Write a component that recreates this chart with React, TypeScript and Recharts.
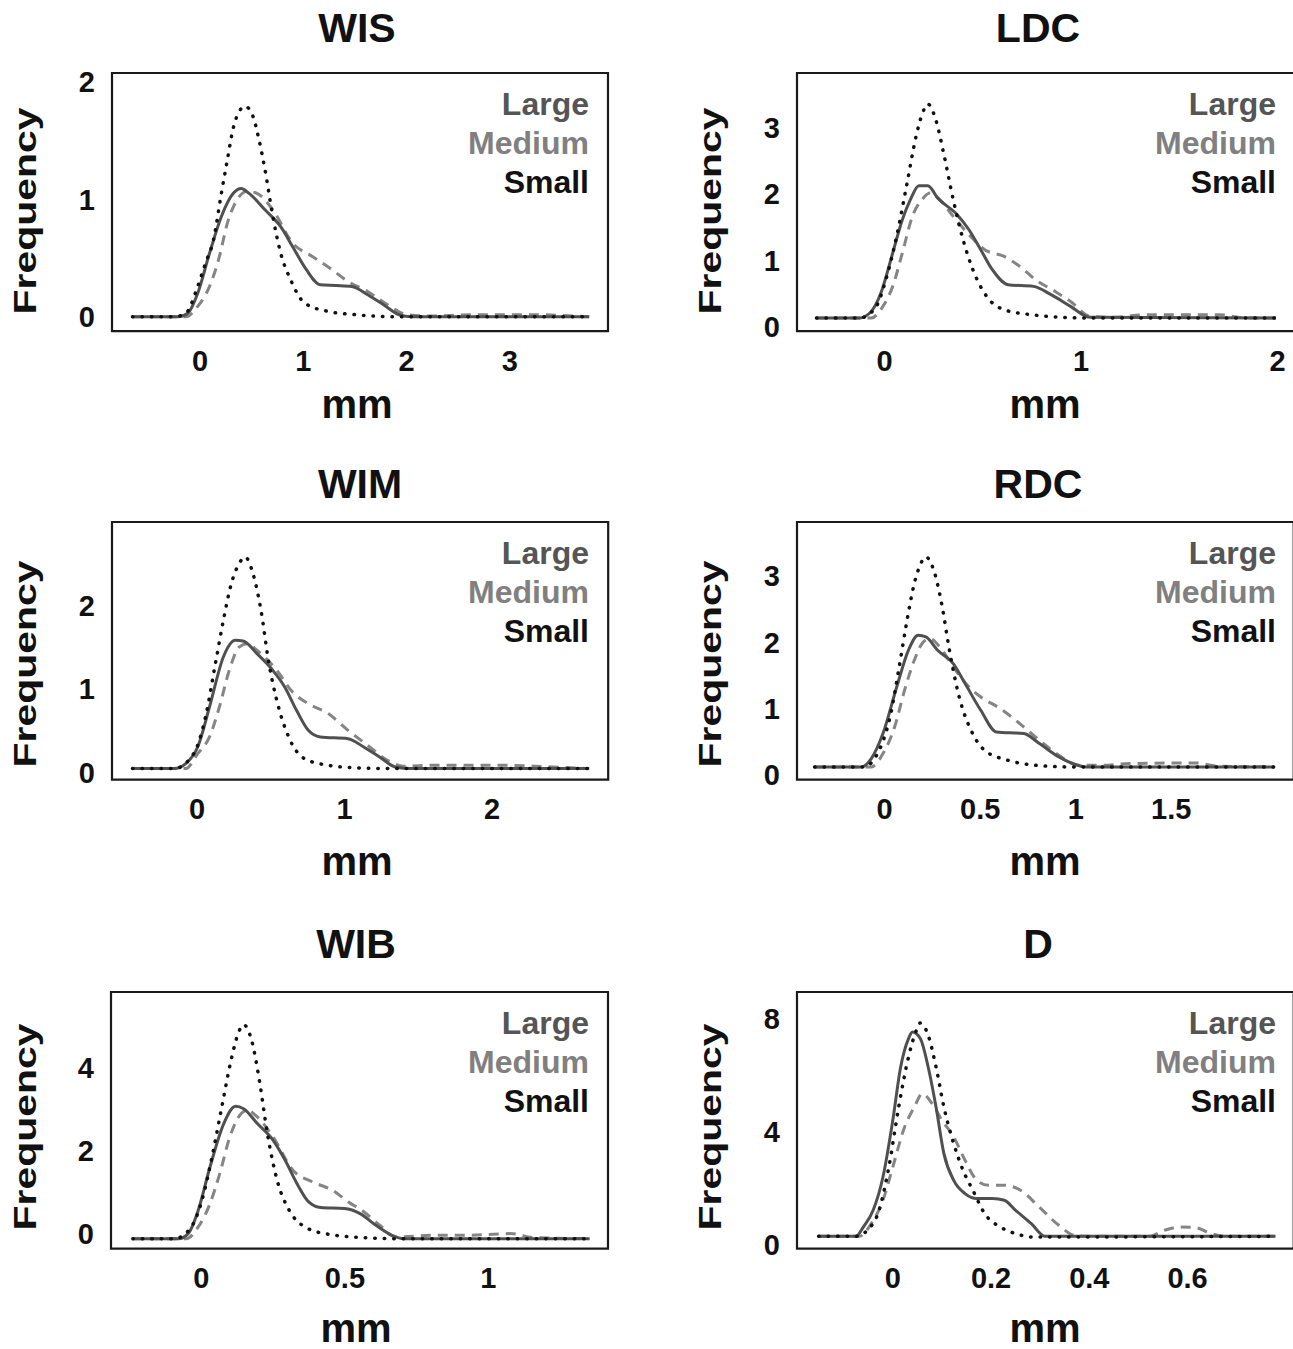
import React from "react";
import { LineChart, Line, XAxis, YAxis, ReferenceArea } from "recharts";

type Pt = { x: number; y: number };
const toPts = (rows: number[][]): Pt[] => rows.map(([x, y]) => ({ x, y }));

// ---- WIS ----
const wisLarge = toPts([
  [-0.654, 0], [-0.214, 0], [-0.118, 0.03], [-0.022, 0.2], [0.092, 0.54], [0.207, 0.853],
  [0.322, 1.05], [0.399, 1.092], [0.475, 1.05], [0.629, 0.91], [0.781, 0.766], [0.896, 0.598],
  [1.03, 0.4], [1.164, 0.272], [1.317, 0.266], [1.47, 0.258], [1.624, 0.187], [1.777, 0.102],
  [1.93, 0.017], [2.045, 0], [3.768, 0],
]);
const wisMedium = toPts([
  [-0.654, 0], [-0.137, 0], [-0.022, 0.088], [0.092, 0.258], [0.188, 0.513], [0.265, 0.797],
  [0.36, 0.996], [0.456, 1.067], [0.552, 1.05], [0.705, 0.91], [0.896, 0.627], [1.088, 0.513],
  [1.279, 0.4], [1.433, 0.3], [1.624, 0.215], [1.815, 0.102], [2.006, 0.017], [2.197, 0.006],
  [2.657, 0.017], [3.231, 0.017], [3.768, 0],
]);
const wisSmall = toPts([
  [-0.654, 0], [-0.252, 0], [-0.137, 0.03], [-0.022, 0.258], [0.054, 0.457], [0.131, 0.655],
  [0.207, 1.05], [0.265, 1.336], [0.322, 1.606], [0.38, 1.747], [0.437, 1.79], [0.513, 1.705],
  [0.571, 1.507], [0.629, 1.251], [0.705, 0.853], [0.781, 0.541], [0.877, 0.315], [1.012, 0.117],
  [1.241, 0.045], [1.509, 0.017], [1.892, 0], [3.768, 0],
]);
const wisXTicks = [0, 1, 2, 3];
const wisYTicks = [0, 1, 2];

// ---- LDC ----
const ldcLarge = toPts([
  [-0.347, 0.134], [-0.128, 0.134], [-0.068, 0.234], [-0.019, 0.51], [0.041, 1.112], [0.09, 1.613],
  [0.131, 1.914], [0.174, 2.124], [0.22, 2.124], [0.27, 1.939], [0.369, 1.688], [0.429, 1.462],
  [0.489, 1.162], [0.548, 0.861], [0.628, 0.635], [0.757, 0.61], [0.847, 0.485], [0.946, 0.309],
  [1.046, 0.144], [1.991, 0.134],
]);
const ldcMedium = toPts([
  [-0.347, 0.134], [-0.068, 0.134], [-0.009, 0.309], [0.041, 0.61], [0.09, 1.112], [0.141, 1.663],
  [0.19, 1.914], [0.23, 2.014], [0.28, 1.914], [0.349, 1.663], [0.429, 1.387], [0.509, 1.162],
  [0.608, 1.061], [0.688, 0.91], [0.767, 0.711], [0.867, 0.535], [0.946, 0.384], [1.046, 0.159],
  [1.145, 0.144], [1.344, 0.184], [1.702, 0.184], [1.841, 0.134], [1.991, 0.134],
]);
const ldcSmall = toPts([
  [-0.347, 0.134], [-0.128, 0.134], [-0.048, 0.284], [0.011, 0.76], [0.061, 1.362], [0.111, 2.114],
  [0.16, 2.866], [0.19, 3.192], [0.22, 3.352], [0.26, 3.117], [0.3, 2.615], [0.349, 1.914],
  [0.399, 1.312], [0.449, 0.861], [0.519, 0.459], [0.608, 0.259], [0.747, 0.184], [0.907, 0.144],
  [1.026, 0.134], [1.991, 0.134],
]);
const ldcXTicks = [0, 1, 2];
const ldcYTicks = [0, 1, 2, 3];

// ---- WIM ----
const wimLarge = toPts([
  [-0.437, 0.05], [-0.156, 0.05], [-0.076, 0.11], [0.005, 0.308], [0.085, 0.786], [0.179, 1.383],
  [0.26, 1.582], [0.313, 1.574], [0.407, 1.423], [0.514, 1.224], [0.595, 1.025], [0.675, 0.746],
  [0.755, 0.507], [0.836, 0.428], [1.024, 0.408], [1.131, 0.308], [1.238, 0.189], [1.345, 0.07],
  [1.452, 0.05], [2.659, 0.05],
]);
const wimMedium = toPts([
  [-0.437, 0.05], [-0.076, 0.05], [0.005, 0.229], [0.085, 0.428], [0.152, 0.786], [0.219, 1.224],
  [0.286, 1.502], [0.34, 1.542], [0.407, 1.463], [0.541, 1.224], [0.648, 0.965], [0.755, 0.826],
  [0.89, 0.707], [1.024, 0.507], [1.157, 0.328], [1.292, 0.149], [1.399, 0.079], [1.613, 0.09],
  [2.096, 0.09], [2.283, 0.079], [2.659, 0.05],
]);
const wimSmall = toPts([
  [-0.437, 0.05], [-0.156, 0.05], [-0.022, 0.229], [0.058, 0.666], [0.125, 1.304], [0.179, 1.821],
  [0.233, 2.259], [0.286, 2.498], [0.327, 2.577], [0.38, 2.378], [0.434, 1.94], [0.488, 1.304],
  [0.541, 0.866], [0.622, 0.427], [0.729, 0.169], [0.89, 0.09], [1.077, 0.06], [1.345, 0.05],
  [2.659, 0.05],
]);
const wimXTicks = [0, 1, 2];
const wimYTicks = [0, 1, 2];

// ---- RDC ----
const rdcLarge = toPts([
  [-0.367, 0.12], [-0.121, 0.12], [-0.07, 0.246], [-0.009, 0.623], [0.063, 1.326], [0.124, 1.879],
  [0.175, 2.106], [0.216, 2.08], [0.277, 1.879], [0.359, 1.679], [0.421, 1.377], [0.503, 0.974],
  [0.585, 0.647], [0.728, 0.623], [0.81, 0.472], [0.912, 0.271], [0.994, 0.16], [1.055, 0.12],
  [2.038, 0.12],
]);
const rdcMedium = toPts([
  [-0.367, 0.12], [-0.07, 0.12], [-0.009, 0.321], [0.052, 0.723], [0.104, 1.276], [0.155, 1.729],
  [0.196, 1.981], [0.237, 2.056], [0.288, 1.93], [0.359, 1.628], [0.441, 1.326], [0.503, 1.175],
  [0.605, 1.0], [0.707, 0.774], [0.81, 0.522], [0.912, 0.296], [1.015, 0.145], [1.137, 0.145],
  [1.281, 0.17], [1.628, 0.18], [1.751, 0.13], [2.038, 0.12],
]);
const rdcSmall = toPts([
  [-0.367, 0.12], [-0.111, 0.12], [-0.029, 0.371], [0.032, 0.925], [0.073, 1.578], [0.114, 2.282],
  [0.155, 2.885], [0.185, 3.161], [0.216, 3.287], [0.257, 3.086], [0.298, 2.584], [0.339, 1.879],
  [0.39, 1.175], [0.452, 0.673], [0.523, 0.371], [0.646, 0.22], [0.79, 0.145], [0.973, 0.12],
  [2.038, 0.12],
]);
const rdcXTicks = [0, 0.5, 1, 1.5];
const rdcYTicks = [0, 1, 2, 3];

// ---- WIB ----
const wibLarge = toPts([
  [-0.239, -0.13], [-0.08, -0.13], [-0.046, -0.008], [-0.011, 0.556], [0.03, 1.601], [0.078, 2.65],
  [0.119, 3.068], [0.147, 3.01], [0.195, 2.65], [0.25, 2.246], [0.292, 1.763], [0.333, 1.2],
  [0.374, 0.757], [0.416, 0.62], [0.498, 0.596], [0.553, 0.475], [0.608, 0.193], [0.664, -0.048],
  [0.705, -0.13], [1.353, -0.13],
]);
const wibMedium = toPts([
  [-0.239, -0.13], [-0.053, -0.13], [-0.011, 0.153], [0.03, 0.717], [0.064, 1.441], [0.099, 2.326],
  [0.126, 2.77], [0.16, 2.971], [0.195, 2.81], [0.25, 2.326], [0.319, 1.522], [0.388, 1.24],
  [0.457, 1.039], [0.512, 0.757], [0.567, 0.515], [0.622, 0.193], [0.677, -0.089], [0.815, -0.048],
  [0.925, -0.048], [1.077, -0.008], [1.16, -0.105], [1.353, -0.13],
]);
const wibSmall = toPts([
  [-0.239, -0.13], [-0.094, -0.13], [-0.039, 0.113], [0.002, 0.797], [0.037, 1.843], [0.071, 3.05],
  [0.106, 4.259], [0.126, 4.783], [0.147, 5.04], [0.175, 4.662], [0.202, 3.696], [0.23, 2.408],
  [0.264, 1.28], [0.306, 0.556], [0.361, 0.153], [0.443, -0.024], [0.567, -0.105], [0.677, -0.13],
  [1.353, -0.13],
]);
const wibXTicks = [0, 0.5, 1];
const wibYTicks = [0, 2, 4];

// ---- D ----
const dLarge = toPts([
  [-0.151, 0.29], [-0.075, 0.29], [-0.06, 0.62], [-0.04, 1.213], [-0.02, 2.395], [0.0, 4.406],
  [0.016, 6.296], [0.032, 7.304], [0.04, 7.539], [0.056, 7.304], [0.072, 6.296], [0.088, 4.878],
  [0.104, 3.225], [0.124, 2.277], [0.147, 1.805], [0.171, 1.628], [0.203, 1.628], [0.227, 1.568],
  [0.25, 1.213], [0.282, 0.74], [0.31, 0.29], [0.779, 0.29],
]);
const dMedium = toPts([
  [-0.151, 0.29], [-0.068, 0.29], [-0.044, 0.74], [-0.02, 1.568], [0.0, 2.749], [0.024, 4.169],
  [0.044, 4.878], [0.06, 5.351], [0.08, 4.997], [0.1, 4.406], [0.124, 3.816], [0.147, 2.987],
  [0.171, 2.277], [0.195, 2.1], [0.227, 2.1], [0.26, 1.923], [0.298, 1.33], [0.338, 0.681],
  [0.37, 0.325], [0.402, 0.29], [0.521, 0.29], [0.553, 0.504], [0.584, 0.62], [0.616, 0.6],
  [0.648, 0.386], [0.68, 0.29], [0.779, 0.29],
]);
const dSmall = toPts([
  [-0.151, 0.29], [-0.075, 0.29], [-0.052, 0.504], [-0.028, 1.213], [-0.008, 2.749], [0.012, 4.878],
  [0.032, 6.651], [0.048, 7.598], [0.056, 7.858], [0.072, 7.421], [0.088, 6.296], [0.104, 4.878],
  [0.124, 3.579], [0.143, 2.632], [0.163, 1.923], [0.187, 1.096], [0.219, 0.62], [0.25, 0.386],
  [0.286, 0.266], [0.779, 0.29],
]);
const dXTicks = [0, 0.2, 0.4, 0.6];
const dYTicks = [0, 4, 8];

const groupNames = ["Large", "Medium", "Small"];

const FONT = '"Liberation Sans", Arial, sans-serif';
const LEGEND_COLORS = ["#555555", "#808080", "#111111"];

type Panel = {
  title: string;
  large: Pt[];
  medium: Pt[];
  small: Pt[];
  xTicks: number[];
  yTicks: number[];
  xDomain: [number, number];
  yDomain: [number, number];
  frame: { l: number; r: number; t: number; b: number };
  titlePos: [number, number];
  mmPos: [number, number];
  freqPos: [number, number];
  legendX: number;
};

const panels: Panel[] = [
  {
    title: "WIS", large: wisLarge, medium: wisMedium, small: wisSmall,
    xTicks: wisXTicks, yTicks: wisYTicks,
    xDomain: [-0.852, 3.95], yDomain: [-0.123, 2.074],
    frame: { l: 112, r: 608, t: 73.3, b: 331.5 },
    titlePos: [357, 42], mmPos: [357, 418], freqPos: [36, 211], legendX: 589,
  },
  {
    title: "LDC", large: ldcLarge, medium: ldcMedium, small: ldcSmall,
    xTicks: ldcXTicks, yTicks: ldcYTicks,
    xDomain: [-0.446, 2.089], yDomain: [-0.064, 3.819],
    frame: { l: 797.3, r: 1295.5, t: 73.3, b: 331.5 },
    titlePos: [1038, 42], mmPos: [1045, 418], freqPos: [721, 211], legendX: 1276,
  },
  {
    title: "WIM", large: wimLarge, medium: wimMedium, small: wimSmall,
    xTicks: wimXTicks, yTicks: wimYTicks,
    xDomain: [-0.576, 2.788], yDomain: [-0.081, 2.995],
    frame: { l: 112, r: 608.2, t: 521.7, b: 779.3 },
    titlePos: [360, 498], mmPos: [357, 875], freqPos: [36, 664], legendX: 589,
  },
  {
    title: "RDC", large: rdcLarge, medium: rdcMedium, small: rdcSmall,
    xTicks: rdcXTicks, yTicks: rdcYTicks,
    xDomain: [-0.459, 2.141], yDomain: [-0.071, 3.814],
    frame: { l: 797.3, r: 1294, t: 521.7, b: 779.3 },
    titlePos: [1038, 498], mmPos: [1045, 875], freqPos: [721, 664], legendX: 1276,
  },
  {
    title: "WIB", large: wibLarge, medium: wibMedium, small: wibSmall,
    xTicks: wibXTicks, yTicks: wibYTicks,
    xDomain: [-0.315, 1.417], yDomain: [-0.37, 5.829],
    frame: { l: 110.7, r: 607.7, t: 991.7, b: 1248.3 },
    titlePos: [356, 958], mmPos: [356, 1342], freqPos: [36, 1127], legendX: 589,
  },
  {
    title: "D", large: dLarge, medium: dMedium, small: dSmall,
    xTicks: dXTicks, yTicks: dYTicks,
    xDomain: [-0.195, 0.816], yDomain: [-0.145, 8.957],
    frame: { l: 797.3, r: 1294, t: 991.7, b: 1248.3 },
    titlePos: [1038, 958], mmPos: [1045, 1342], freqPos: [721, 1127], legendX: 1276,
  },
];

const Y_AXIS_W = 110;
const X_AXIS_H = 60;
const PAD = 10;

const tickStyle = { fontSize: 29, fontWeight: 700, fill: "#111", fontFamily: FONT };

function DensityPanel({ p }: { p: Panel }) {
  const { l, r, t, b } = p.frame;
  const width = r - l + Y_AXIS_W + PAD;
  const height = b - t + PAD + X_AXIS_H;
  return (
    <div style={{ position: "absolute", left: l - Y_AXIS_W, top: t - PAD }}>
      <LineChart width={width} height={height} margin={{ top: PAD, right: PAD, bottom: 0, left: 0 }}>
        <XAxis
          dataKey="x"
          type="number"
          domain={p.xDomain}
          allowDataOverflow
          ticks={p.xTicks}
          interval={0}
          height={X_AXIS_H}
          tickSize={0}
          tickMargin={19}
          axisLine={false}
          tickLine={false}
          tick={tickStyle}
        />
        <YAxis
          type="number"
          domain={p.yDomain}
          allowDataOverflow
          ticks={p.yTicks}
          interval={0}
          width={Y_AXIS_W}
          tickSize={0}
          tickMargin={17}
          axisLine={false}
          tickLine={false}
          tick={tickStyle}
        />
        <ReferenceArea
          x1={p.xDomain[0]}
          x2={p.xDomain[1]}
          y1={p.yDomain[0]}
          y2={p.yDomain[1]}
          fill="none"
          fillOpacity={0}
          stroke="#1a1a1a"
          strokeWidth={2.2}
        />
        <Line
          data={p.medium}
          dataKey="y"
          type="monotone"
          dot={false}
          stroke="#858585"
          strokeWidth={3}
          strokeDasharray="10 7"
          isAnimationActive={false}
        />
        <Line
          data={p.large}
          dataKey="y"
          type="monotone"
          dot={false}
          stroke="#505050"
          strokeWidth={3}
          isAnimationActive={false}
        />
        <Line
          data={p.small}
          dataKey="y"
          type="monotone"
          dot={false}
          stroke="#111111"
          strokeWidth={3.5}
          strokeDasharray="0.5 9"
          strokeLinecap="round"
          isAnimationActive={false}
        />
      </LineChart>
    </div>
  );
}

function Labels() {
  return (
    <svg
      width={1293}
      height={1349}
      style={{ position: "absolute", left: 0, top: 0, pointerEvents: "none" }}
      fontFamily={FONT}
      fontWeight={700}
    >
      {panels.map((p) => (
        <g key={p.title}>
          <text x={p.titlePos[0]} y={p.titlePos[1]} fontSize={41} textAnchor="middle" fill="#111">
            {p.title}
          </text>
          <text x={p.mmPos[0]} y={p.mmPos[1]} fontSize={40} textAnchor="middle" fill="#111">
            mm
          </text>
          <text
            transform={`translate(${p.freqPos[0]}, ${p.freqPos[1]}) rotate(-90)`}
            fontSize={32}
            textAnchor="middle"
            textLength={207}
            lengthAdjust="spacingAndGlyphs"
            fill="#111"
          >
            Frequency
          </text>
          {groupNames.map((name, i) => (
            <text
              key={name}
              x={p.legendX}
              y={p.frame.t + 42 + i * 39}
              fontSize={32}
              textAnchor="end"
              fill={LEGEND_COLORS[i]}
            >
              {name}
            </text>
          ))}
        </g>
      ))}
    </svg>
  );
}

export default function App() {
  return (
    <div
      style={{
        position: "absolute",
        left: 0,
        top: 0,
        width: 1293,
        height: 1349,
        overflow: "hidden",
        background: "#fff",
        fontFamily: FONT,
      }}
    >
      {panels.map((p) => (
        <DensityPanel key={p.title} p={p} />
      ))}
      <Labels />
    </div>
  );
}
